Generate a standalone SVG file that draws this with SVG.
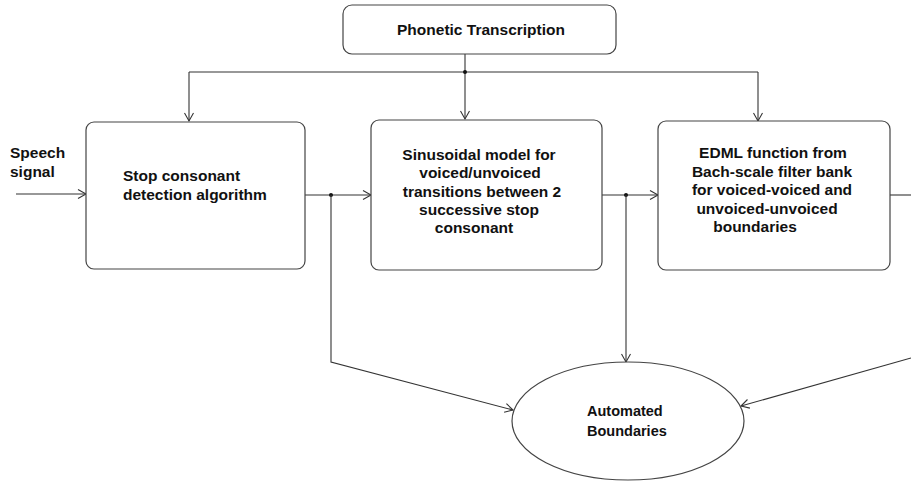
<svg xmlns="http://www.w3.org/2000/svg" width="911" height="482" viewBox="0 0 911 482">
<style>
.box{fill:#fff;stroke:#444;stroke-width:1.2}
.t{font-family:"Liberation Sans",Arial,sans-serif;font-weight:bold;font-size:15.5px;fill:#111}
.c{text-anchor:middle}
.ln{fill:none;stroke:#333;stroke-width:1.1}
.dot{fill:#111}
</style>
<defs>
<marker id="arr" markerUnits="userSpaceOnUse" markerWidth="12" markerHeight="12" refX="9" refY="5" orient="auto">
<path d="M1,0.5 L9,5 L1,9.5" fill="none" stroke="#333" stroke-width="1.1"/>
</marker>
</defs>
<rect width="911" height="482" fill="#fff"/>
<g id="connectors">
<polyline class="ln" points="465,54 465,72"/>
<line class="ln" x1="189" y1="72" x2="758" y2="72"/>
<line class="ln" x1="189" y1="72" x2="189" y2="121" marker-end="url(#arr)"/>
<line class="ln" x1="465" y1="72" x2="465" y2="119" marker-end="url(#arr)"/>
<line class="ln" x1="758" y1="72" x2="758" y2="121" marker-end="url(#arr)"/>
<circle class="dot" cx="465" cy="72" r="2"/>
<line class="ln" x1="16" y1="194" x2="86" y2="194" marker-end="url(#arr)"/>
<line class="ln" x1="305" y1="195" x2="371" y2="195" marker-end="url(#arr)"/>
<circle class="dot" cx="331" cy="195" r="2"/>
<polyline class="ln" points="331,195 331,362 513,410" marker-end="url(#arr)"/>
<line class="ln" x1="602" y1="195" x2="658" y2="195" marker-end="url(#arr)"/>
<circle class="dot" cx="626" cy="195" r="2"/>
<line class="ln" x1="626" y1="195" x2="626" y2="362" marker-end="url(#arr)"/>
<line class="ln" x1="890" y1="195" x2="911" y2="195"/>
<line class="ln" x1="911" y1="358" x2="741" y2="406" marker-end="url(#arr)"/>
</g>
<g id="speech-signal">
<text class="t" x="10" y="158">Speech</text>
<text class="t" x="10" y="177">signal</text>
</g>
<g id="phonetic">
<rect class="box" x="343" y="5" width="273" height="49" rx="9"/>
<text class="t c" x="481" y="35">Phonetic Transcription</text>
</g>
<g id="stop-detection">
<rect class="box" x="86" y="122" width="219" height="147" rx="8"/>
<text class="t" x="123" y="181">Stop consonant</text>
<text class="t" x="123" y="200">detection algorithm</text>
</g>
<g id="sinusoidal">
<rect class="box" x="371" y="120" width="231" height="150" rx="8"/>
<text class="t c" x="479" y="160">Sinusoidal model for</text>
<text class="t c" x="480" y="178">voiced/unvoiced</text>
<text class="t c" x="482" y="197">transitions between 2</text>
<text class="t c" x="479" y="215">successive stop</text>
<text class="t c" x="474" y="233">consonant</text>
</g>
<g id="edml">
<rect class="box" x="658" y="121" width="232" height="149" rx="8"/>
<text class="t c" x="773" y="158">EDML function from</text>
<text class="t c" x="772" y="177">Bach-scale filter bank</text>
<text class="t c" x="772" y="195">for voiced-voiced and</text>
<text class="t c" x="767" y="214">unvoiced-unvoiced</text>
<text class="t c" x="755" y="232">boundaries</text>
</g>
<g id="automated">
<ellipse class="box" cx="628" cy="421" rx="116" ry="59"/>
<text class="t" x="587" y="416" style="font-size:14.5px">Automated</text>
<text class="t" x="587" y="436" style="font-size:14.5px">Boundaries</text>
</g>
</svg>
